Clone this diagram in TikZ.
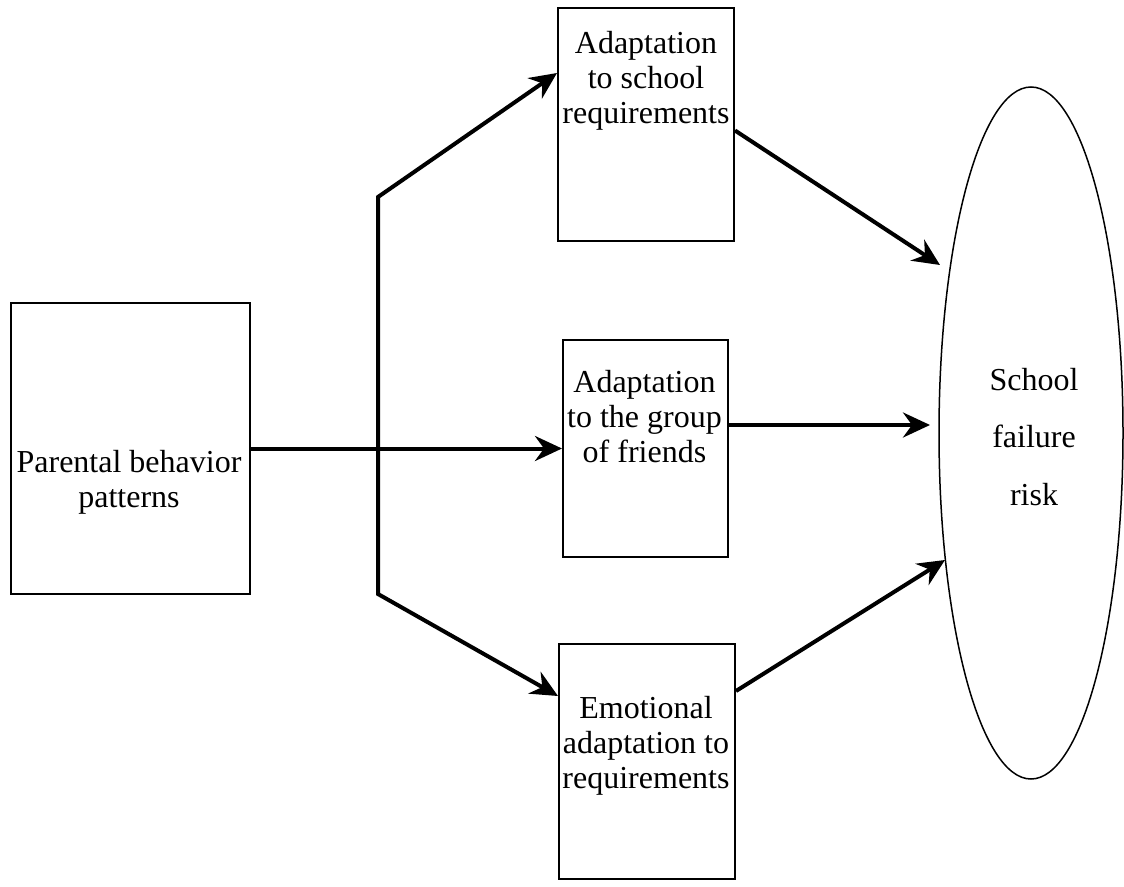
\documentclass[tikz,border=0pt]{standalone}
\usepackage{fontspec}
\setmainfont{Liberation Serif}
\usetikzlibrary{arrows.meta,shapes.geometric}
\begin{document}
\begin{tikzpicture}[x=1pt,y=-1pt,
  box/.style={draw, line width=2pt, inner sep=0pt, anchor=north west},
  lbl/.style={font=\fontsize{32}{35}\selectfont, align=center, inner sep=0pt},
  conn/.style={line width=4pt},
  arr/.style={conn, -{Stealth[length=27pt,width=25pt,inset=9pt]}}
]
\useasboundingbox (0,0) rectangle (1124,886);
\node[box, minimum width=239pt, minimum height=291pt] (par) at (10,302) {};
\node[box, minimum width=176pt, minimum height=233pt] (top) at (557,7) {};
\node[box, minimum width=165pt, minimum height=217pt] (mid) at (562,339) {};
\node[box, minimum width=176pt, minimum height=235pt] (bot) at (558,643) {};
\node[draw, ellipse, line width=1.5pt, inner sep=0pt, minimum width=184pt, minimum height=692pt] (ell) at (1031,433) {};

\node[lbl] (tpar) at (129,482) {Parental behavior\\patterns};
\node[lbl] (ttop) at (646,81) {Adaptation\\to school\\requirements};
\node[lbl] (tmid) at (644.5,417) {Adaptation\\to the group\\of friends};
\node[lbl] (tbot) at (646,746) {Emotional\\adaptation to\\requirements};
\node[lbl, font=\fontsize{32}{57.5}\selectfont] (tell) at (1034,437) {School\\failure\\risk};

\coordinate (j1) at (378,197);
\coordinate (j2) at (378,594);
\coordinate (e1) at (940,265);
\coordinate (e2) at (930,425);
\coordinate (e3) at (945,560);

\draw[conn, {Stealth[length=27pt,width=25pt,inset=9pt]}-{Stealth[length=27pt,width=25pt,inset=9pt]}, line join=miter]
  ([yshift=51.5pt]top.west) -- (j1) -- (j2) -- ([yshift=65.5pt]bot.west);
\draw[arr] (par.east) -- (par.east -| mid.west);
\draw[arr] ([yshift=-6pt]top.east) -- (e1);
\draw[arr] (mid.east |- e2) -- (e2);
\draw[arr] ([yshift=70.5pt]bot.east) -- (e3);
\end{tikzpicture}
\end{document}
